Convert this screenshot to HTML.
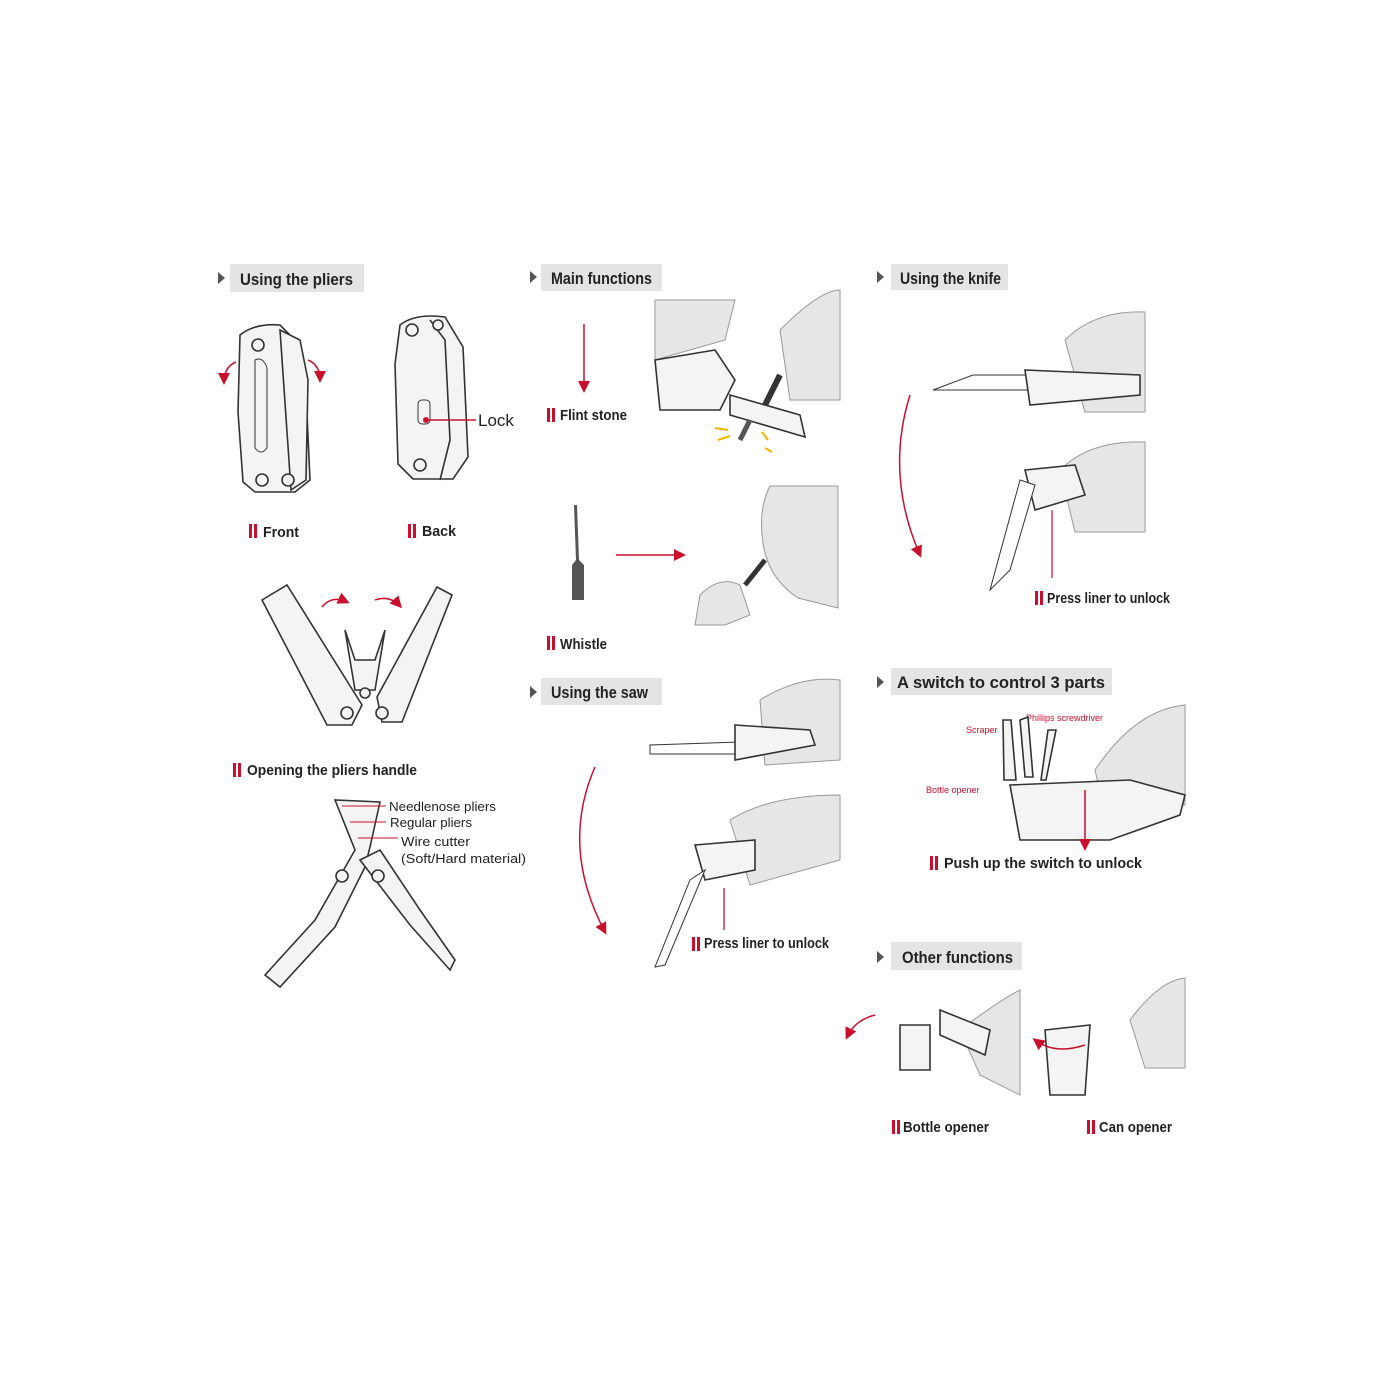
<!DOCTYPE html>
<html><head><meta charset="utf-8"><style>
html,body{margin:0;padding:0;background:#fff;width:1400px;height:1400px;overflow:hidden}
svg{display:block}
.h{font-family:"Liberation Sans",sans-serif;font-weight:bold;font-size:17px;fill:#222}
.l{font-family:"Liberation Sans",sans-serif;font-weight:bold;font-size:15px;fill:#222}
.s{font-family:"Liberation Sans",sans-serif;font-size:13px;fill:#222}
.r{font-family:"Liberation Sans",sans-serif;font-size:9px;fill:#c8102e}
.o{fill:#f4f4f4;stroke:#333;stroke-width:1.6}
.hand{fill:#e6e6e6;stroke:#999;stroke-width:1}
.ar{fill:none;stroke:#c8102e;stroke-width:1.5}
</style></head><body>
<svg width="1400" height="1400" viewBox="0 0 1400 1400" xmlns="http://www.w3.org/2000/svg">
<defs><marker id="m" markerWidth="8" markerHeight="8" refX="6" refY="4" orient="auto"><path d="M0,0 L8,4 L0,8 z" fill="#c8102e"/></marker></defs>
<g>
<path d="M218,272 l7,6 l-7,6z" fill="#555"/><rect x="230" y="264" width="134" height="28" fill="#e4e4e4"/><text x="240" y="285" class="h" textLength="113" lengthAdjust="spacingAndGlyphs">Using the pliers</text>
<path d="M530,271 l7,6 l-7,6z" fill="#555"/><rect x="541" y="264" width="121" height="27" fill="#e4e4e4"/><text x="551" y="284" class="h" textLength="101" lengthAdjust="spacingAndGlyphs">Main functions</text>
<path d="M877,271 l7,6 l-7,6z" fill="#555"/><rect x="891" y="264" width="117" height="26" fill="#e4e4e4"/><text x="900" y="284" class="h" textLength="101" lengthAdjust="spacingAndGlyphs">Using the knife</text>
<path d="M530,686 l7,6 l-7,6z" fill="#555"/><rect x="541" y="678" width="121" height="27" fill="#e4e4e4"/><text x="551" y="698" class="h" textLength="97" lengthAdjust="spacingAndGlyphs">Using the saw</text>
<path d="M877,676 l7,6 l-7,6z" fill="#555"/><rect x="891" y="668" width="221" height="27" fill="#e4e4e4"/><text x="897" y="688" class="h" textLength="208" lengthAdjust="spacingAndGlyphs">A switch to control 3 parts</text>
<path d="M877,951 l7,6 l-7,6z" fill="#555"/><rect x="891" y="942" width="131" height="28" fill="#e4e4e4"/><text x="902" y="963" class="h" textLength="111" lengthAdjust="spacingAndGlyphs">Other functions</text>
</g>
<g fill="#c8102e">
<rect x="249" y="524" width="3" height="14"/><rect x="254" y="524" width="3" height="14"/>
<rect x="408" y="524" width="3" height="14"/><rect x="413" y="524" width="3" height="14"/>
<rect x="233" y="763" width="3" height="14"/><rect x="238" y="763" width="3" height="14"/>
<rect x="547" y="408" width="3" height="14"/><rect x="552" y="408" width="3" height="14"/>
<rect x="547" y="636" width="3" height="14"/><rect x="552" y="636" width="3" height="14"/>
<rect x="692" y="937" width="3" height="14"/><rect x="697" y="937" width="3" height="14"/>
<rect x="1035" y="591" width="3" height="14"/><rect x="1040" y="591" width="3" height="14"/>
<rect x="930" y="856" width="3" height="14"/><rect x="935" y="856" width="3" height="14"/>
<rect x="892" y="1120" width="3" height="14"/><rect x="897" y="1120" width="3" height="14"/>
<rect x="1087" y="1120" width="3" height="14"/><rect x="1092" y="1120" width="3" height="14"/>
</g>
<text x="263" y="537" class="l" textLength="36" lengthAdjust="spacingAndGlyphs">Front</text>
<text x="422" y="536" class="l" textLength="34" lengthAdjust="spacingAndGlyphs">Back</text>
<text x="247" y="775" class="l" textLength="170" lengthAdjust="spacingAndGlyphs">Opening the pliers handle</text>
<text x="560" y="420" class="l" textLength="67" lengthAdjust="spacingAndGlyphs">Flint stone</text>
<text x="560" y="649" class="l" textLength="47" lengthAdjust="spacingAndGlyphs">Whistle</text>
<text x="704" y="948" class="l" textLength="125" lengthAdjust="spacingAndGlyphs">Press liner to unlock</text>
<text x="1047" y="603" class="l" textLength="123" lengthAdjust="spacingAndGlyphs">Press liner to unlock</text>
<text x="944" y="868" class="l" textLength="198" lengthAdjust="spacingAndGlyphs">Push up the switch to unlock</text>
<text x="903" y="1132" class="l" textLength="86" lengthAdjust="spacingAndGlyphs">Bottle opener</text>
<text x="1099" y="1132" class="l" textLength="73" lengthAdjust="spacingAndGlyphs">Can opener</text>
<text x="478" y="426" style="font-family:'Liberation Sans',sans-serif;font-size:17px;fill:#222">Lock</text>
<text x="389" y="811" class="s" textLength="107" lengthAdjust="spacingAndGlyphs">Needlenose pliers</text>
<text x="390" y="827" class="s" textLength="82" lengthAdjust="spacingAndGlyphs">Regular pliers</text>
<text x="401" y="846" class="s" textLength="69" lengthAdjust="spacingAndGlyphs">Wire cutter</text>
<text x="401" y="863" class="s" textLength="125" lengthAdjust="spacingAndGlyphs">(Soft/Hard material)</text>
<text x="966" y="733" class="r">Scraper</text>
<text x="1026" y="721" class="r">Phillips screwdriver</text>
<text x="926" y="793" class="r">Bottle opener</text>
<!-- pliers front/back -->
<path class="o" d="M240,335 q15,-12 40,-10 l15,15 l10,30 l5,110 l-15,12 l-40,0 l-12,-10 l-5,-70 z"/>
<path class="o" d="M280,330 l20,10 l8,40 l-2,100 l-15,10 z"/>
<circle cx="258" cy="345" r="6" class="o"/><circle cx="262" cy="480" r="6" class="o"/><circle cx="288" cy="480" r="6" class="o"/>
<path d="M255,360 q8,-4 12,8 l0,80 q-6,8 -12,0z" fill="none" stroke="#333"/>
<path class="ar" d="M236,362 q-12,5 -12,20" marker-end="url(#m)"/><path class="ar" d="M308,360 q12,5 12,20" marker-end="url(#m)"/>
<path class="o" d="M400,325 q15,-12 45,-8 l18,30 l5,110 l-15,22 l-40,0 l-15,-15 l-3,-100 z"/>
<path class="o" d="M430,320 l15,20 l5,100 l-10,40"/>
<circle cx="412" cy="330" r="6" class="o"/><circle cx="438" cy="325" r="5" class="o"/><circle cx="420" cy="465" r="6" class="o"/>
<rect x="418" y="400" width="12" height="24" rx="4" fill="none" stroke="#333"/>
<line x1="426" y1="420" x2="476" y2="420" stroke="#c8102e" stroke-width="1.5"/><circle cx="426" cy="420" r="3" fill="#c8102e"/>
<!-- opening pliers -->
<path class="o" d="M262,600 l25,-15 l75,120 l-10,20 l-25,0 z"/>
<path class="o" d="M452,595 l-15,-8 l-60,110 l5,25 l20,0 z"/>
<path class="o" d="M345,630 l10,60 l20,0 l10,-60 l-10,30 l-20,0z"/>
<circle cx="347" cy="713" r="6" class="o"/><circle cx="382" cy="713" r="6" class="o"/><circle cx="365" cy="693" r="5" class="o"/>
<path class="ar" d="M322,607 q10,-12 25,-5" marker-end="url(#m)"/><path class="ar" d="M375,600 q15,-5 25,6" marker-end="url(#m)"/>
<!-- bottom pliers -->
<path class="o" d="M335,800 l20,50 l-40,70 l-50,55 l15,12 l55,-60 l30,-60 l5,-20 l10,-45 z"/>
<path class="o" d="M360,860 l20,-10 l40,60 l35,50 l-5,10 l-40,-45 z"/>
<circle cx="342" cy="876" r="6" class="o"/><circle cx="378" cy="876" r="6" class="o"/>
<g stroke="#c8102e" stroke-width="1"><line x1="342" y1="806" x2="386" y2="806"/><line x1="350" y1="822" x2="386" y2="822"/><line x1="358" y1="838" x2="398" y2="838"/></g>
<!-- flint -->
<line x1="584" y1="324" x2="584" y2="390" class="ar" marker-end="url(#m)"/>
<path class="hand" d="M655,300 l80,0 l-10,40 l-70,20 z"/><path class="hand" d="M780,330 q40,-40 60,-40 l0,110 l-50,0 z"/>
<path class="o" d="M655,360 l60,-10 l20,30 l-15,30 l-60,0 z"/>
<path class="o" d="M730,395 l70,20 l5,22 l-75,-22z"/>
<line x1="740" y1="440" x2="750" y2="420" stroke="#555" stroke-width="5"/><line x1="765" y1="405" x2="780" y2="375" stroke="#333" stroke-width="6"/>
<g stroke="#f0b400" stroke-width="2"><line x1="715" y1="428" x2="728" y2="430"/><line x1="718" y1="440" x2="730" y2="436"/><line x1="762" y1="432" x2="768" y2="440"/><line x1="765" y1="448" x2="772" y2="452"/></g>
<!-- whistle -->
<path d="M574,505 l3,0 l2,55 l5,5 l0,35 l-12,0 l0,-35 l4,-5z" fill="#555"/>
<line x1="616" y1="555" x2="683" y2="555" class="ar" marker-end="url(#m)"/>
<path class="hand" d="M770,486 l68,0 l0,122 l-40,-10 q-30,-20 -35,-55 q-5,-35 7,-57z"/>
<path class="hand" d="M700,595 q20,-20 40,-10 l10,30 l-25,10 l-30,0z"/>
<line x1="745" y1="585" x2="765" y2="560" stroke="#333" stroke-width="5"/>
<!-- saw -->
<path class="ar" d="M595,767 q-35,80 10,165" marker-end="url(#m)"/>
<path class="hand" d="M760,700 q40,-25 80,-20 l0,80 l-75,5 z"/>
<path d="M650,745 l90,-3 l0,12 l-90,0z" fill="#fff" stroke="#333"/>
<path class="o" d="M735,725 l75,5 l5,15 l-80,15z"/>
<path class="hand" d="M730,820 q40,-25 110,-25 l0,65 l-90,25z"/>
<path class="o" d="M695,845 l60,-5 l0,30 l-50,10z"/>
<path d="M690,880 l15,-10 l-40,95 l-10,2 z" fill="#fff" stroke="#333"/>
<line x1="724" y1="888" x2="724" y2="930" stroke="#c8102e" stroke-width="1.3"/>
<!-- knife -->
<path class="ar" d="M910,395 q-25,80 10,160" marker-end="url(#m)"/>
<path class="hand" d="M1065,340 q30,-30 80,-28 l0,100 l-60,0z"/>
<path d="M933,390 l40,-15 l55,0 l0,15z" fill="#fff" stroke="#333"/>
<path class="o" d="M1025,370 l115,5 l0,20 l-110,10z"/>
<path class="hand" d="M1060,470 q30,-30 85,-28 l0,90 l-70,0z"/>
<path class="o" d="M1025,470 l50,-5 l10,30 l-50,15z"/>
<path d="M1020,480 l15,5 l-25,85 l-20,20 z" fill="#fff" stroke="#333"/>
<line x1="1052" y1="510" x2="1052" y2="578" stroke="#c8102e" stroke-width="1.2"/>
<!-- switch -->
<path class="hand" d="M1095,770 q40,-60 90,-65 l0,100 l-80,10z"/>
<path class="o" d="M1010,785 l120,-5 l55,15 l-5,20 l-70,25 l-90,0 z"/>
<path class="o" d="M1003,720 l8,0 l5,60 l-12,0z"/><path class="o" d="M1020,720 l8,-3 l5,60 l-8,0z"/><path class="o" d="M1048,730 l8,0 l-10,50 l-5,0z"/>
<line x1="1085" y1="790" x2="1085" y2="848" class="ar" marker-end="url(#m)"/>
<!-- other -->
<path class="ar" d="M875,1015 q-20,5 -28,22" marker-end="url(#m)"/>
<path class="hand" d="M960,1030 q40,-30 60,-40 l0,105 l-40,-20z"/>
<path class="o" d="M900,1025 l30,0 l0,45 l-30,0z"/><path class="o" d="M940,1010 l50,20 l-5,25 l-45,-20z"/>
<path class="hand" d="M1130,1020 q30,-40 55,-42 l0,90 l-40,0z"/>
<path class="o" d="M1045,1030 l45,-5 l-5,70 l-35,0z"/>
<path class="ar" d="M1085,1045 q-30,10 -50,-5" marker-end="url(#m)"/>
</svg>
</body></html>
